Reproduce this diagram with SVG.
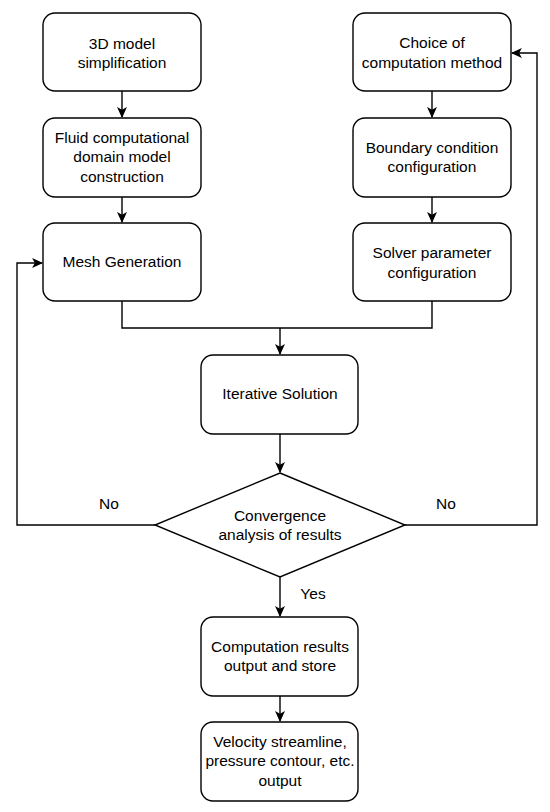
<svg xmlns="http://www.w3.org/2000/svg" width="550" height="812" viewBox="0 0 550 812">
<style>
.n{fill:#fff;stroke:#000;stroke-width:1.4}
.t{font-family:"Liberation Sans",Arial,sans-serif;font-size:15.5px;fill:#000;text-anchor:middle}
.c{fill:none;stroke:#000;stroke-width:1.4}
</style>
<defs>
<marker id="a" viewBox="0 0 10 10" refX="9" refY="5" markerWidth="11" markerHeight="11" markerUnits="userSpaceOnUse" orient="auto">
<path d="M0,0.5 L10,5 L0,9.5 L2.5,5 z" fill="#000"/>
</marker>
</defs>
<rect width="550" height="812" fill="#fff"/>
<g id="connectors">
<path class="c" d="M122,91 V117" marker-end="url(#a)"/>
<path class="c" d="M122,197 V222" marker-end="url(#a)"/>
<path class="c" d="M432,91 V117" marker-end="url(#a)"/>
<path class="c" d="M432,197 V222" marker-end="url(#a)"/>
<path class="c" d="M122,301 V328 H432 V301"/>
<path class="c" d="M280,328 V354" marker-end="url(#a)"/>
<path class="c" d="M280,434 V472" marker-end="url(#a)"/>
<path class="c" d="M155,525 H17 V263 H42" marker-end="url(#a)"/>
<path class="c" d="M405,525 H537 V53 H512" marker-end="url(#a)"/>
<path class="c" d="M280,577 V616" marker-end="url(#a)"/>
<path class="c" d="M280,696 V721" marker-end="url(#a)"/>
<text class="t" x="109" y="509">No</text>
<text class="t" x="446" y="509">No</text>
<text class="t" x="313" y="599">Yes</text>
</g>
<g id="n1"><rect class="n" x="43" y="13" width="158" height="78" rx="12"/>
<text class="t" x="122" y="49">3D model</text><text class="t" x="122" y="68">simplification</text></g>
<g id="n2"><rect class="n" x="43" y="118" width="158" height="79" rx="12"/>
<text class="t" x="122" y="143">Fluid computational</text><text class="t" x="122" y="162">domain model</text><text class="t" x="122" y="182">construction</text></g>
<g id="n3"><rect class="n" x="43" y="223" width="158" height="78" rx="12"/>
<text class="t" x="122" y="267">Mesh Generation</text></g>
<g id="n4"><rect class="n" x="353" y="13" width="158" height="78" rx="12"/>
<text class="t" x="432" y="48">Choice of</text><text class="t" x="432" y="68">computation method</text></g>
<g id="n5"><rect class="n" x="353" y="118" width="158" height="79" rx="12"/>
<text class="t" x="432" y="153">Boundary condition</text><text class="t" x="432" y="172">configuration</text></g>
<g id="n6"><rect class="n" x="353" y="223" width="158" height="78" rx="12"/>
<text class="t" x="432" y="258">Solver parameter</text><text class="t" x="432" y="278">configuration</text></g>
<g id="n7"><rect class="n" x="201" y="355" width="157" height="79" rx="12"/>
<text class="t" x="280" y="399">Iterative Solution</text></g>
<g id="n8"><path class="n" d="M280,473 L405,525 L280,577 L155,525 Z"/>
<text class="t" x="280" y="521">Convergence</text><text class="t" x="280" y="540">analysis of results</text></g>
<g id="n9"><rect class="n" x="201" y="617" width="157" height="79" rx="12"/>
<text class="t" x="280" y="652">Computation results</text><text class="t" x="280" y="671">output and store</text></g>
<g id="n10"><rect class="n" x="201" y="722" width="157" height="79" rx="12"/>
<text class="t" x="280" y="747">Velocity streamline,</text><text class="t" x="280" y="766">pressure contour, etc.</text><text class="t" x="280" y="786">output</text></g>
</svg>
